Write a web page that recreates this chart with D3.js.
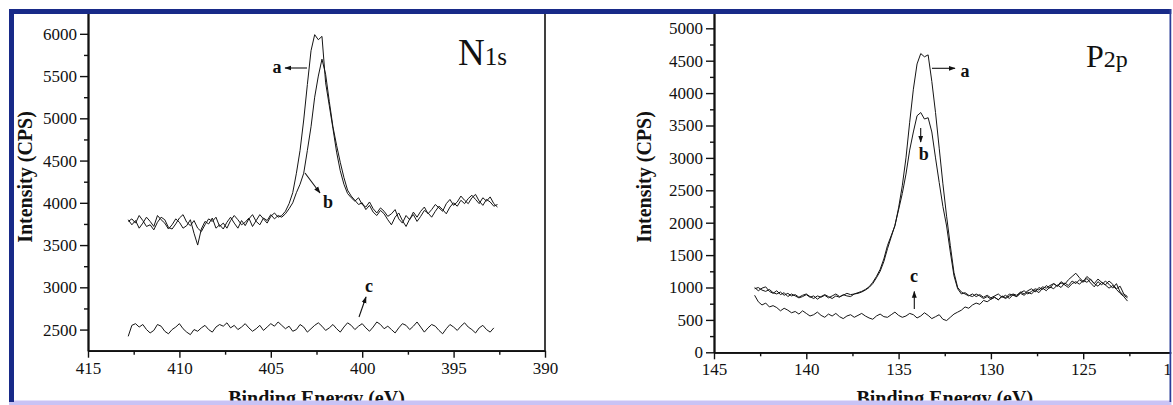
<!DOCTYPE html>
<html><head><meta charset="utf-8">
<script src="https://cdn.jsdelivr.net/npm/d3@7"></script>
<style>
html,body{margin:0;padding:0;background:#fff;}
svg{display:block;}
text{font-family:"Liberation Serif","Times New Roman",serif;fill:#111;}
</style></head><body><svg id="chart" width="1173" height="405"></svg>
<script>
// ---------- N1s panel data (binding energy from 412.8 eV, step 0.2 eV, decreasing) ----------
const n1sStart = 412.8, n1sStep = 0.2;
const n1sA = [3780,3810,3760,3850,3790,3720,3740,3680,3770,3830,3800,3710,3690,3750,3820,3860,3770,3730,3790,3700,3660,3740,3810,3780,3830,3720,3760,3700,3790,3850,3800,3740,3770,3820,3720,3790,3860,3810,3760,3840,3880,3830,
  3850,3900,3990,4120,4350,4620,4980,5400,5800,5990,5930,5970,5420,5150,4880,4600,4380,4220,4110,4060,
  4020,4060,3980,3950,4010,3930,3880,3940,3900,3840,3870,3920,3810,3760,3850,3800,3890,3830,3900,3950,3870,3920,3980,3940,3900,3990,4040,3970,4010,4080,4030,3990,4060,4100,4020,3970,4040,4010,3960,3980];
const n1sB = [3800,3740,3790,3700,3760,3830,3780,3720,3850,3800,3760,3690,3740,3810,3770,3700,3730,3800,3640,3500,3690,3780,3750,3820,3700,3740,3690,3770,3830,3760,3700,3790,3730,3810,3860,3780,3740,3820,3790,3860,3810,3850,
  3830,3870,3930,4000,4120,4220,4350,4620,4900,5250,5500,5700,5520,5200,4900,4680,4480,4300,4150,4080,
  4030,3980,4000,3920,3970,3890,3850,3910,3870,3800,3740,3830,3880,3790,3720,3810,3860,3780,3840,3910,3880,3830,3900,3960,3920,3870,3950,4000,3960,4030,3990,4050,4090,4040,3990,4060,4020,4070,3990,3950];
const n1sC = [2420,2550,2570,2530,2560,2500,2460,2490,2560,2540,2480,2450,2500,2530,2570,2510,2470,2440,2500,2480,2520,2550,2500,2470,2530,2560,2540,2580,2520,2550,2500,2530,2570,2520,2480,2510,2550,2490,2530,2570,2540,2590,2550,2510,2540,2480,2500,2560,2530,2470,2510,2550,2580,2540,2490,2520,2560,2510,2470,2530,2580,2550,2500,2540,2570,2520,2480,2530,2590,2560,2510,2540,2500,2460,2520,2570,2550,2500,2540,2590,2530,2470,2520,2560,2540,2490,2450,2510,2560,2530,2490,2540,2580,2530,2500,2460,2520,2550,2500,2470,2520];
const n1sXTicks = [415,410,405,400,395,390];
const n1sYTicks = [2500,3000,3500,4000,4500,5000,5500,6000];

// ---------- P2p panel data (binding energy from 142.8 eV, step 0.2 eV, decreasing) ----------
const p2pStart = 142.8, p2pStep = 0.2;
const p2pA = [980,1000,960,940,970,920,900,930,880,910,870,890,850,880,900,860,830,870,850,880,840,870,900,860,880,910,890,900,
  920,940,970,1010,1080,1170,1280,1440,1650,1800,1950,2230,2570,3000,3550,4060,4450,4610,4560,4590,4180,3700,3150,2600,2100,1650,1230,1000,
  930,900,870,900,860,890,850,880,840,870,900,850,880,830,890,860,910,880,930,900,960,920,990,950,1010,980,1040,1000,1070,1030,1100,1060,1120,1080,1140,1070,1010,1090,1040,1100,1050,990,1060,930,880,840];
const p2pB = [1000,950,990,1010,940,910,950,890,920,860,900,870,840,860,890,850,870,820,860,890,860,830,870,850,890,870,860,900,
  910,930,960,1000,1060,1150,1250,1400,1600,1780,1960,2200,2450,2750,3120,3400,3650,3700,3600,3620,3400,3000,2620,2250,1950,1550,1180,980,
  900,920,880,860,900,870,830,860,820,850,810,860,830,870,900,880,930,900,950,980,930,1000,970,1030,990,1060,1020,1090,1050,1120,1170,1220,1150,1090,1170,1120,1060,1130,1080,1040,1100,1050,980,1020,900,860];
const p2pC = [880,780,730,760,700,720,690,640,680,650,610,630,590,640,600,560,580,620,570,540,590,560,600,550,520,560,580,540,570,600,560,530,510,560,590,550,540,580,620,570,540,560,600,580,530,560,610,570,520,550,580,510,490,540,590,
  620,650,700,680,730,760,740,800,780,820,850,810,870,840,900,880,860,920,950,900,940,980,960,1010,990,1030,1060,1020,1070,1040,1000,1060,1090,1050,1110,1080,1130,1060,1020,1080,1040,990,1030,970,910,860,790];
const p2pXTicks = [145,140,135,130,125,120];
const p2pYTicks = [0,500,1000,1500,2000,2500,3000,3500,4000,4500,5000];

const FONT = '"Liberation Serif","Times New Roman",serif';
const svg = d3.select("#chart");
svg.append("rect").attr("width",1173).attr("height",405).attr("fill","#fff");

function minorOf(t){ return t.slice(1).map((v,i)=>(v+t[i])/2); }

const defs = svg.append("defs");
defs.append("marker").attr("id","arr").attr("viewBox","0 0 10 10").attr("refX",9).attr("refY",5)
  .attr("markerWidth",7).attr("markerHeight",7).attr("markerUnits","userSpaceOnUse").attr("orient","auto")
  .append("path").attr("d","M0,1.5L10,5L0,8.5Z").attr("fill","#111");

function panel(cfg){
  const x = d3.scaleLinear().domain(cfg.xDom).range(cfg.xRange);
  const y = d3.scaleLinear().domain(cfg.yDom).range(cfg.yRange);
  const g = svg.append("g");
  const [x0,x1] = cfg.xRange, [yb,yt] = cfg.yRange;
  g.append("path").attr("d",`M${x0},${yt}H${x1}V${yb}`).attr("fill","none").attr("stroke","#111").attr("stroke-width",1.6);
  cfg.series.forEach(s=>{
    const line = d3.line().x((d,i)=>x(cfg.start - i*cfg.step)).y(d=>y(d));
    g.append("path").datum(s).attr("d",line).attr("fill","none").attr("stroke","#151515").attr("stroke-width",1).attr("stroke-linejoin","round");
  });
  const axes = [];
  axes.push(g.append("g").attr("transform",`translate(0,${yb})`)
    .call(d3.axisBottom(x).tickValues(cfg.xTicks).tickSize(7).tickPadding(4).tickSizeOuter(0).tickFormat(d3.format("d"))));
  axes.push(g.append("g").attr("transform",`translate(0,${yb})`)
    .call(d3.axisBottom(x).tickValues(minorOf(cfg.xTicks)).tickSize(4).tickSizeOuter(0).tickFormat("")));
  axes.push(g.append("g").attr("transform",`translate(${x0},0)`)
    .call(d3.axisLeft(y).tickValues(cfg.yTicks).tickSize(8).tickPadding(3).tickSizeOuter(0).tickFormat(d3.format("d"))));
  axes.push(g.append("g").attr("transform",`translate(${x0},0)`)
    .call(d3.axisLeft(y).tickValues(minorOf(cfg.yTicks)).tickSize(4).tickSizeOuter(0).tickFormat("")));
  axes.forEach(a=>a.attr("font-family",FONT).attr("font-size",17));
  g.selectAll(".domain").attr("stroke","#111").attr("stroke-width",1.8);
  g.selectAll(".tick line").attr("stroke","#111").attr("stroke-width",1.4);
  g.selectAll(".tick text").style("font-size","17px").style("fill","#111").style("font-family",FONT);
  g.append("text").attr("x",(x0+x1)/2).attr("y",404.5).attr("text-anchor","middle")
    .attr("font-size",20).attr("font-weight","bold").text("Binding Energy (eV)");
  g.append("text").attr("transform",`translate(${cfg.yTitleX},177) rotate(-90)`).attr("dy","0.35em")
    .attr("text-anchor","middle").attr("font-size",20).attr("font-weight","bold").text("Intensity (CPS)");
  const t = g.append("text").attr("x",cfg.label.x).attr("y",cfg.label.y);
  t.append("tspan").attr("font-size",cfg.label.s1).text(cfg.label.main);
  t.append("tspan").attr("font-size",cfg.label.s2).text(cfg.label.sub);
  cfg.arrows.forEach(a=>{
    g.append("line").attr("x1",a.x1).attr("y1",a.y1).attr("x2",a.x2).attr("y2",a.y2)
      .attr("stroke","#111").attr("stroke-width",1.1).attr("marker-end","url(#arr)");
    g.append("text").attr("x",a.tx).attr("y",a.ty).attr("text-anchor","middle")
      .attr("font-size",18).attr("font-weight","bold").text(a.t);
  });
}

panel({
  xDom:[415,390], xRange:[88,545], yDom:[2250,6250], yRange:[350.7,12.7],
  start:n1sStart, step:n1sStep, series:[n1sC,n1sB,n1sA],
  xTicks:n1sXTicks, yTicks:n1sYTicks, yTitleX:24.5,
  label:{x:458,y:65,main:"N",sub:"1s",s1:37,s2:25},
  arrows:[
    {x1:307,y1:68,x2:285,y2:68,t:"a",tx:277,ty:73},
    {x1:305,y1:173,x2:320,y2:193,t:"b",tx:328,ty:208},
    {x1:359,y1:317,x2:366,y2:297,t:"c",tx:369,ty:292}
  ]
});
panel({
  xDom:[145,120], xRange:[714,1175.5], yDom:[0,5250], yRange:[352.3,12.1],
  start:p2pStart, step:p2pStep, series:[p2pC,p2pB,p2pA],
  xTicks:p2pXTicks, yTicks:p2pYTicks, yTitleX:643.5,
  label:{x:1086,y:67,main:"P",sub:"2p",s1:32,s2:24},
  arrows:[
    {x1:932,y1:68.3,x2:955,y2:68.3,t:"a",tx:965,ty:76.5},
    {x1:920.7,y1:128,x2:920.7,y2:142,t:"b",tx:923.8,ty:160},
    {x1:914.3,y1:309,x2:914.3,y2:291.5,t:"c",tx:914,ty:281.5}
  ]
});

// outer blue frame
svg.append("rect").attr("x",0).attr("y",400.5).attr("width",1173).attr("height",5).attr("fill","#c9c3f5");
svg.append("rect").attr("x",9).attr("y",9).attr("width",1163).attr("height",5).attr("fill","#182a88");
svg.append("rect").attr("x",9).attr("y",9).attr("width",5).attr("height",393).attr("fill","#182a88");
svg.append("rect").attr("x",1169.5).attr("y",9).attr("width",2).attr("height",393).attr("fill","#2a3c98");
svg.append("rect").attr("x",0).attr("y",0).attr("width",1173).attr("height",9).attr("fill","#fff");
svg.append("rect").attr("x",0).attr("y",0).attr("width",9).attr("height",405).attr("fill","#fff");
svg.append("rect").attr("x",1171.5).attr("y",0).attr("width",2).attr("height",405).attr("fill","#fff");
</script></body></html>
